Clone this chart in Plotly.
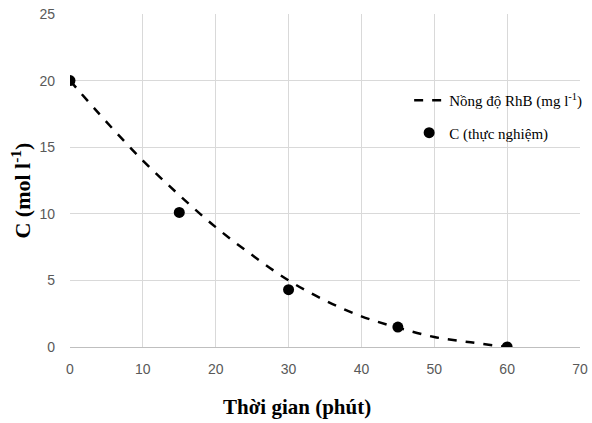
import plotly.graph_objects as go

# Measured concentration over time
t_exp = [0, 15, 30, 45, 60]
c_exp = [20, 10.1, 4.3, 1.5, 0]

# RhB concentration curve
t_curve = [0, 5, 10, 15, 20, 25, 30, 35, 40, 45, 50, 55, 60]
c_curve = [20, 16.9, 14.0, 11.4, 9.0, 6.9, 5.0, 3.5, 2.3, 1.45, 0.75, 0.35, 0.0]

x_ticks = [0, 10, 20, 30, 40, 50, 60, 70]
y_ticks = [0, 5, 10, 15, 20, 25]

serif = "Liberation Serif"
tick_font = dict(family="Liberation Sans, Arial, sans-serif", size=14, color="#595959")

fig = go.Figure()
fig.add_trace(go.Scatter(
    x=t_curve, y=c_curve, mode="lines", line_shape="spline",
    line=dict(color="black", width=2.5, dash="dash"),
    name="Nồng độ RhB (mg l<sup>-1</sup>)", legendgroup="curve",
))
fig.add_trace(go.Scatter(
    x=t_exp, y=c_exp, mode="markers",
    marker=dict(color="black", size=11),
    name="C (thực nghiệm)", legendgroup="exp",
))

fig.update_layout(
    width=592, height=423,
    margin=dict(l=70, r=12, t=14, b=76, autoexpand=False),
    plot_bgcolor="white", paper_bgcolor="white",
    legend=dict(
        x=0.665, y=0.79, xanchor="left", yanchor="top",
        bgcolor="rgba(255,255,255,0)",
        font=dict(family=serif, size=15, color="black"),
        tracegroupgap=10,
    ),
    xaxis=dict(
        range=[0, 70], tickvals=x_ticks, showgrid=True, gridcolor="#d9d9d9",
        zeroline=False, showline=True, linecolor="#bfbfbf", linewidth=1,
        tickfont=tick_font, ticks="", ticklabelstandoff=9, automargin=False,
    ),
    yaxis=dict(
        range=[0, 25], tickvals=y_ticks, showgrid=True, gridcolor="#d9d9d9",
        zeroline=False, showline=False,
        tickfont=tick_font, ticks="", ticklabelstandoff=14, automargin=False,
    ),
    annotations=[
        dict(text="<b>Thời gian (phút)</b>", xref="paper", yref="paper",
             x=0.445, y=-0.18, xanchor="center", yanchor="middle", showarrow=False,
             font=dict(family=serif, size=21, color="black")),
        dict(text="<b>C (mol l<sup>-1</sup>)</b>", xref="paper", yref="paper",
             x=-0.096, y=0.47, xanchor="center", yanchor="middle", showarrow=False,
             textangle=-90, font=dict(family=serif, size=22, color="black")),
    ],
)

fig.write_html("out.html")
